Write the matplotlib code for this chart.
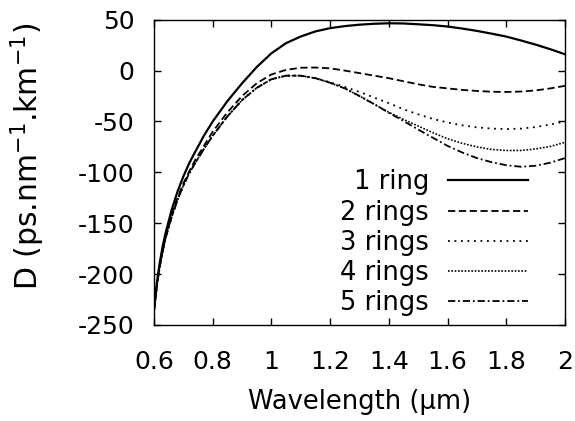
import matplotlib
matplotlib.use("Agg")
import matplotlib.pyplot as plt

FONT = 'DejaVu Sans'
plt.rcParams['font.family'] = [FONT]
plt.rcParams['mathtext.fontset'] = 'custom'
plt.rcParams['mathtext.rm'] = FONT
plt.rcParams['mathtext.it'] = FONT
plt.rcParams['mathtext.default'] = 'regular'
plt.rcParams['axes.unicode_minus'] = False

wavelength = [0.60, 0.61, 0.62, 0.63, 0.64, 0.66, 0.68, 0.70, 0.72, 0.74, 0.77, 0.80,
              0.85, 0.90, 0.95, 1.00, 1.05, 1.10, 1.15, 1.20, 1.25, 1.30, 1.35, 1.40,
              1.45, 1.50, 1.55, 1.60, 1.65, 1.70, 1.75, 1.80, 1.85, 1.90, 1.95, 2.00]

ring1 = [-235, -208, -188, -172, -159, -137, -119, -104, -91, -80, -64, -50,
         -30, -12.5, 3.5, 17, 27, 33.5, 38.5, 41.7, 43.7, 45.1, 46, 46.5,
         46.3, 45.5, 44.6, 43.3, 41.3, 39, 36.3, 33.4, 29.6, 25.5, 21, 16]
ring2 = [-236, -210, -191, -176, -163, -142, -125, -111, -99, -88, -74, -60,
         -41, -25, -12.5, -3.8, 0.7, 2.8, 3, 2.2, 0, -2.5, -5, -7.5,
         -10.5, -13.5, -16, -17.5, -19, -20, -20.8, -21, -20.6, -19.5, -17.5, -15]
ring3 = [-236, -211, -192, -177, -164, -144, -127, -113, -101, -91, -77, -64,
         -45, -29, -17, -8.5, -5, -5, -7.5, -11.5, -16, -21, -26.5, -32,
         -38, -43, -47.5, -51, -53.8, -55.8, -57, -57.5, -57, -55.5, -53, -50]
ring4 = [-236, -211, -192, -177, -164, -144, -127, -113, -101, -91, -77, -64,
         -45, -29, -17, -8.5, -5, -5, -7.5, -12, -17.5, -25, -33, -41,
         -48, -54.5, -61, -67, -71.5, -75, -77.5, -78.5, -78.5, -77, -74.5, -70.5]
ring5 = [-236, -211, -192, -177, -164, -144, -127, -113, -101, -91, -77, -64,
         -45, -29, -17, -8.5, -5, -5, -7.5, -12, -17.5, -25, -33, -41.5,
         -49.5, -58, -66, -74, -80.5, -86, -90, -93, -94.5, -93.5, -90.5, -86]

labels = ['1 ring', '2 rings', '3 rings', '4 rings', '5 rings']
xticks = [0.6, 0.8, 1.0, 1.2, 1.4, 1.6, 1.8, 2.0]
xticklabels = ['0.6', '0.8', '1', '1.2', '1.4', '1.6', '1.8', '2']
yticks = [50, 0, -50, -100, -150, -200, -250]

fig = plt.figure(figsize=(5.75, 4.21), dpi=100)
ax = fig.add_axes([154/575, 1-325/421, 411/575, (325-19.7)/421])

series = [ring1, ring2, ring3, ring4, ring5]
dashes = [None, (4, 2), (1, 2.6), (1, 1), (4, 1.6, 1, 1.6)]
widths = [1.6, 1.3, 1.3, 1.2, 1.3]
for vals, lab, d, w in zip(series, labels, dashes, widths):
    line, = ax.plot(wavelength, vals, color='black', lw=w, label=lab)
    if d is not None:
        line.set_dashes(d)

ax.set_xlim(0.6, 2.0)
ax.set_ylim(-250, 50)
ax.set_xticks(xticks)
ax.set_xticklabels(xticklabels)
ax.set_yticks(yticks)
ax.tick_params(direction='in', length=5, width=1, top=True, right=True,
               labelsize=18)
ax.tick_params(axis='x', pad=18)
ax.tick_params(axis='y', pad=14)
for s in ax.spines.values():
    s.set_linewidth(1.0)

ax.set_xlabel('Wavelength (\u03bcm)', fontsize=18.5)
ax.set_ylabel('D (ps.nm$^{-1}$.km$^{-1}$)', fontsize=21.5)
ax.xaxis.set_label_coords(0.5, -0.21)
ax.yaxis.set_label_coords(-0.26, 0.553)

leg = ax.legend(loc='lower right', bbox_to_anchor=(0.91, 0.03), frameon=False,
                markerfirst=False, fontsize=18.5, handlelength=3.1,
                handletextpad=0.75, labelspacing=0.16, borderpad=0,
                borderaxespad=0)
for t in leg.get_texts():
    t.set_ha('right')

fig.savefig('out.png', dpi=100)
